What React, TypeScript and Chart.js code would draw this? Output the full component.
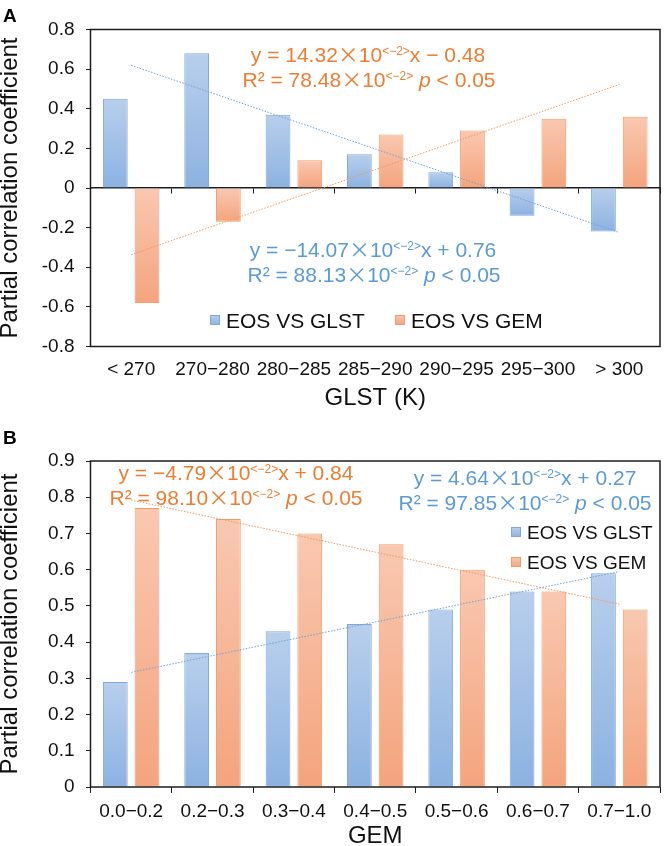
import React, { useEffect, useRef } from 'react';
import { Chart, registerables } from 'chart.js';

Chart.register(...registerables);

// ---- data -------------------------------------------------------------
const SERIES_NAMES = ['EOS VS GLST', 'EOS VS GEM'];

// Panel A: partial correlation by land-surface-temperature bin
const GLST_BINS = ['< 270', '270−280', '280−285', '285−290', '290−295', '295−300', '> 300'];
const A_EOS_VS_GLST = [0.45, 0.68, 0.37, 0.17, 0.08, -0.14, -0.22];
const A_EOS_VS_GEM = [-0.58, -0.17, 0.14, 0.27, 0.29, 0.35, 0.36];
const A_Y_RANGE = [-0.8, 0.8];
const A_Y_STEP = 0.2;

// Panel B: partial correlation by GEM bin
const GEM_BINS = ['0.0−0.2', '0.2−0.3', '0.3−0.4', '0.4−0.5', '0.5−0.6', '0.6−0.7', '0.7−1.0'];
const B_EOS_VS_GLST = [0.29, 0.37, 0.43, 0.45, 0.49, 0.54, 0.59];
const B_EOS_VS_GEM = [0.77, 0.74, 0.7, 0.67, 0.6, 0.54, 0.49];
const B_Y_RANGE = [0, 0.9];
const B_Y_STEP = 0.1;

// Linear fits over the bin index (1..7)
const A_FIT_GLST = { slope: -0.1407, intercept: 0.76, r2: 0.8813 };
const A_FIT_GEM = { slope: 0.1432, intercept: -0.48, r2: 0.7848 };
const B_FIT_GLST = { slope: 0.0464, intercept: 0.27, r2: 0.9785 };
const B_FIT_GEM = { slope: -0.0479, intercept: 0.84, r2: 0.981 };

// ---- styling ----------------------------------------------------------
const FONT = '"Liberation Sans", Arial, Helvetica, sans-serif';
const CJK = '"Noto Sans CJK SC", "Noto Sans CJK JP", sans-serif';
const INK = '#111111';
const FRAME = '#1c1c1c';
const BLUE = { top: '#B8CFEC', bottom: '#8CB2E1', edge: '#7FA8DB', text: '#5B9BD5', trend: '#6AA3DA' };
const ORANGE = { top: '#F9C8B1', bottom: '#F4A47D', edge: '#F29C6B', text: '#ED7D31', trend: '#F29858' };

type Fit = { slope: number; intercept: number; r2: number };
type Run = { t: string; k?: 'sup' | 'it' | 'x' };
type Note = { runs: Run[]; cx: number; base: number; color: string };
type LegendItem = { ds: number; x: number; y: number };

const trendValues = (f: Fit, n: number) =>
  Array.from({ length: n }, (_, i) => f.slope * (i + 1) + f.intercept);

const hundredths = (v: number) => (v * 100).toFixed(2);

function fitLines(f: Fit): Run[][] {
  const slope = `${f.slope < 0 ? '−' : ''}${hundredths(Math.abs(f.slope))}`;
  const icpt = `${f.intercept < 0 ? '−' : '+'} ${Math.abs(f.intercept).toFixed(2)}`;
  return [
    [{ t: `y = ${slope}` }, { t: '×', k: 'x' }, { t: '10' }, { t: '<−2>', k: 'sup' }, { t: `x ${icpt}` }],
    [
      { t: `R² = ${hundredths(f.r2)}` },
      { t: '×', k: 'x' },
      { t: '10' },
      { t: '<−2>', k: 'sup' },
      { t: ' ' },
      { t: 'p', k: 'it' },
      { t: ' < 0.05' },
    ],
  ];
}

const NOTE_SIZE = 21;
function runFont(k?: string) {
  if (k === 'sup') return `12px ${FONT}`;
  if (k === 'it') return `italic ${NOTE_SIZE}px ${FONT}`;
  if (k === 'x') return `${NOTE_SIZE}px ${CJK}`;
  return `${NOTE_SIZE}px ${FONT}`;
}

function drawNote(ctx: CanvasRenderingContext2D, n: Note) {
  let w = 0;
  const widths = n.runs.map((r) => {
    ctx.font = runFont(r.k);
    const m = ctx.measureText(r.t).width;
    w += m;
    return m;
  });
  let x = n.cx - w / 2;
  ctx.fillStyle = n.color;
  ctx.textAlign = 'left';
  ctx.textBaseline = 'alphabetic';
  n.runs.forEach((r, i) => {
    ctx.font = runFont(r.k);
    ctx.fillText(r.t, x, r.k === 'sup' ? n.base - 7.5 : n.base);
    x += widths[i];
  });
}

function barFill(c: { top: string; bottom: string }) {
  return (ctx: any) => {
    const chart = ctx.chart;
    const ys = chart.scales?.y;
    if (!ys || ctx.type !== 'data' || typeof ctx.raw !== 'number') return c.bottom;
    const p0 = ys.getPixelForValue(0);
    const p1 = ys.getPixelForValue(ctx.raw);
    const t = Math.min(p0, p1);
    const b = Math.max(p0, p1);
    if (!isFinite(t) || b - t < 1) return c.bottom;
    const g = chart.ctx.createLinearGradient(0, t, 0, b);
    g.addColorStop(0, c.top);
    g.addColorStop(1, c.bottom);
    return g;
  };
}

const PALETTE = [BLUE, ORANGE];

function makePlugins(
  letter: { text: string; x: number; base: number },
  notes: Note[],
  legend: LegendItem[],
  legendSize: number
) {
  return [
    {
      id: 'plotFrame',
      afterDraw(chart: any) {
        const { ctx, chartArea: a } = chart;
        ctx.save();
        ctx.strokeStyle = FRAME;
        ctx.lineWidth = 1.5;
        ctx.strokeRect(a.left, a.top, a.right - a.left, a.bottom - a.top);
        ctx.restore();
      },
    },
    {
      id: 'fitNotes',
      afterDraw(chart: any) {
        const ctx = chart.ctx;
        ctx.save();
        notes.forEach((n) => drawNote(ctx, n));
        ctx.font = `bold 19px ${FONT}`;
        ctx.fillStyle = '#000';
        ctx.textAlign = 'left';
        ctx.textBaseline = 'alphabetic';
        ctx.fillText(letter.text, letter.x, letter.base);
        ctx.restore();
      },
    },
    {
      id: 'seriesKey',
      afterDraw(chart: any) {
        const ctx = chart.ctx;
        ctx.save();
        legend.forEach((item) => {
          const ds = chart.data.datasets[item.ds];
          const pal = PALETTE[item.ds - 2];
          const g = ctx.createLinearGradient(0, item.y - 5, 0, item.y + 5);
          g.addColorStop(0, pal.top);
          g.addColorStop(1, pal.bottom);
          ctx.fillStyle = g;
          ctx.fillRect(item.x, item.y - 5, 10, 10);
          ctx.strokeStyle = pal.edge;
          ctx.lineWidth = 1;
          ctx.strokeRect(item.x + 0.5, item.y - 4.5, 9, 9);
          ctx.fillStyle = INK;
          ctx.font = `${legendSize}px ${FONT}`;
          ctx.textAlign = 'left';
          ctx.textBaseline = 'alphabetic';
          ctx.fillText(ds.label, item.x + 16, item.y + legendSize * 0.36);
        });
        ctx.restore();
      },
    },
  ];
}

function datasets(labels: string[], glst: number[], gem: number[], fGlst: Fit, fGem: Fit) {
  const trend = (f: Fit, color: string) => ({
    type: 'line',
    label: 'trend',
    data: trendValues(f, labels.length),
    borderColor: color,
    borderWidth: 1,
    borderDash: [1.5, 1.5],
    pointRadius: 0,
    fill: false,
    tension: 0,
    xAxisID: 'x',
    yAxisID: 'y',
    order: 0,
  });
  const bars = (name: string, data: number[], c: typeof BLUE) => ({
    type: 'bar',
    label: name,
    data,
    backgroundColor: barFill(c),
    borderColor: c.edge,
    borderWidth: 1,
    xAxisID: 'x',
    yAxisID: 'y',
    order: 1,
    categoryPercentage: 0.78,
    barPercentage: 0.78,
  });
  return [
    trend(fGlst, BLUE.trend),
    trend(fGem, ORANGE.trend),
    bars(SERIES_NAMES[0], glst, BLUE),
    bars(SERIES_NAMES[1], gem, ORANGE),
  ];
}

const tickFont = { family: FONT, size: 19 };
const titleFont = { family: FONT, size: 24 };

function yScale(range: number[], step: number, width: number) {
  return {
    type: 'linear',
    min: range[0],
    max: range[1],
    ticks: { stepSize: step, color: INK, font: tickFont, padding: 11.5 },
    grid: { drawOnChartArea: false, drawTicks: true, tickLength: 4.5, color: FRAME, lineWidth: 1 },
    border: { display: false },
    title: {
      display: true,
      text: 'Partial correlation coefficient',
      color: INK,
      font: titleFont,
      padding: { top: -4.4, bottom: 0 },
    },
    afterFit: (s: any) => {
      s.width = width;
    },
  };
}

function configA(): any {
  const [l1, l2] = fitLines(A_FIT_GEM);
  const [b1, b2] = fitLines(A_FIT_GLST);
  return {
    type: 'bar',
    data: { labels: GLST_BINS, datasets: datasets(GLST_BINS, A_EOS_VS_GLST, A_EOS_VS_GEM, A_FIT_GLST, A_FIT_GEM) },
    options: {
      responsive: false,
      animation: false,
      events: [],
      layout: { padding: { top: 29.5, right: 4, left: 0, bottom: 0 } },
      plugins: { legend: { display: false }, tooltip: { enabled: false } },
      scales: {
        x: {
          type: 'category',
          position: 'bottom',
          offset: true,
          grid: { display: false, drawTicks: false },
          border: { display: false },
          ticks: { color: INK, font: tickFont, padding: 12, maxRotation: 0, autoSkip: false },
          title: { display: true, text: 'GLST (K)', color: INK, font: titleFont, padding: { top: 0, bottom: 12.6 } },
          afterFit: (s: any) => {
            s.height = 78.5;
          },
        },
        x0: {
          type: 'category',
          axis: 'x',
          labels: GLST_BINS,
          position: { y: 0 },
          offset: true,
          grid: { offset: true, drawOnChartArea: false, drawTicks: true, tickLength: 5, color: FRAME, lineWidth: 1 },
          border: { display: true, color: FRAME, width: 1.5 },
          ticks: { display: false },
        },
        y: yScale(A_Y_RANGE, A_Y_STEP, 90.5),
      },
    },
    plugins: makePlugins(
      { text: 'A', x: 3, base: 21.7 },
      [
        { runs: l1, cx: 368, base: 62, color: ORANGE.text },
        { runs: l2, cx: 369, base: 87, color: ORANGE.text },
        { runs: b1, cx: 373, base: 257, color: BLUE.text },
        { runs: b2, cx: 374, base: 282, color: BLUE.text },
      ],
      [
        { ds: 2, x: 210, y: 320 },
        { ds: 3, x: 395, y: 320 },
      ],
      21
    ),
  };
}

function configB(): any {
  const [o1, o2] = fitLines(B_FIT_GEM);
  const [b1, b2] = fitLines(B_FIT_GLST);
  return {
    type: 'bar',
    data: { labels: GEM_BINS, datasets: datasets(GEM_BINS, B_EOS_VS_GLST, B_EOS_VS_GEM, B_FIT_GLST, B_FIT_GEM) },
    options: {
      responsive: false,
      animation: false,
      events: [],
      layout: { padding: { top: 36, right: 4, left: 0, bottom: 0 } },
      plugins: { legend: { display: false }, tooltip: { enabled: false } },
      scales: {
        x: {
          type: 'category',
          position: 'bottom',
          offset: true,
          grid: { display: true, offset: true, drawOnChartArea: false, drawTicks: true, tickLength: 6, color: FRAME, lineWidth: 1 },
          border: { display: false },
          ticks: { color: INK, font: tickFont, padding: 7.6, maxRotation: 0, autoSkip: false },
          title: { display: true, text: 'GEM', color: INK, font: titleFont, padding: { top: 0, bottom: 14.6 } },
          afterFit: (s: any) => {
            s.height = 78;
          },
        },
        y: yScale(B_Y_RANGE, B_Y_STEP, 90.5),
      },
    },
    plugins: makePlugins(
      { text: 'B', x: 3, base: 18.5 },
      [
        { runs: o1, cx: 236, base: 55, color: ORANGE.text },
        { runs: o2, cx: 236, base: 80, color: ORANGE.text },
        { runs: b1, cx: 525, base: 60, color: BLUE.text },
        { runs: b2, cx: 525, base: 85, color: BLUE.text },
      ],
      [
        { ds: 2, x: 511, y: 107 },
        { ds: 3, x: 511, y: 137 },
      ],
      19
    ),
  };
}

export default function App() {
  const aRef = useRef<HTMLCanvasElement>(null);
  const bRef = useRef<HTMLCanvasElement>(null);

  useEffect(() => {
    document.body.style.margin = '0';
    const a = new Chart(aRef.current as HTMLCanvasElement, configA());
    const b = new Chart(bRef.current as HTMLCanvasElement, configB());
    return () => {
      a.destroy();
      b.destroy();
    };
  }, []);

  return (
    <div style={{ position: 'relative', width: 664, height: 846, overflow: 'hidden', background: '#ffffff' }}>
      <canvas ref={aRef} width={664} height={425} style={{ position: 'absolute', left: 0, top: 0 }} />
      <canvas ref={bRef} width={664} height={440} style={{ position: 'absolute', left: 0, top: 425 }} />
    </div>
  );
}
